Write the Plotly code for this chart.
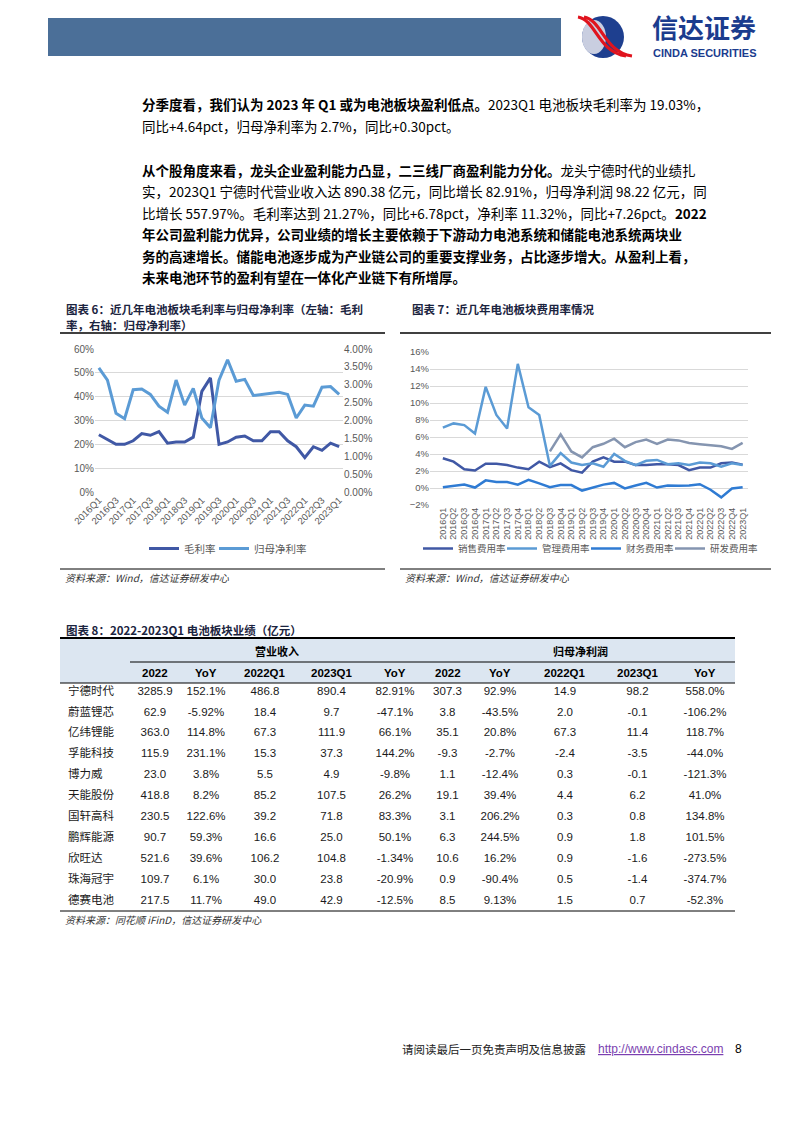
import plotly.graph_objects as go

W, H = 794, 1123

def X(px):
    return px / W

def Y(py):
    return 1 - py / H

# ---------------- data ----------------
quarters = [f"{y}Q{q}" for y in range(2016, 2024) for q in range(1, 5)][:29]

gross_margin = [24.0, 22.1, 20.0, 20.0, 21.5, 24.5, 23.8, 25.3, 20.5, 21.0, 21.0, 23.0, 42.2, 47.9,
                20.0, 21.0, 23.0, 23.5, 21.5, 21.5, 25.3, 25.3, 21.5, 19.0, 14.4, 19.0, 17.5, 20.5, 19.03]
net_margin = [3.47, 3.13, 2.20, 2.05, 2.86, 2.88, 2.73, 2.40, 2.23, 3.13, 2.43, 2.90, 2.07, 1.80,
              3.13, 3.70, 3.10, 3.15, 2.70, 2.73, 2.77, 2.79, 2.73, 2.07, 2.43, 2.40, 2.93, 2.95, 2.73]

selling_rate = [3.5, 3.1, 2.2, 2.05, 2.85, 2.85, 2.7, 2.4, 2.2, 3.1, 2.45, 2.9, 2.1, 1.8, 3.1, 3.6,
                3.1, 3.1, 2.7, 2.7, 2.8, 2.8, 2.7, 2.1, 2.4, 2.4, 2.9, 3.0, 2.75]
admin_rate = [7.1, 7.6, 7.4, 6.4, 11.9, 8.6, 7.0, 14.6, 9.5, 8.6, 2.6, 4.1, 3.0, 2.7, 2.9, 2.5,
              4.0, 3.2, 2.7, 3.2, 3.3, 2.8, 2.9, 2.7, 3.0, 2.9, 2.5, 2.9, 2.7]
finance_rate = [0.1, 0.25, 0.4, 0.05, 0.9, 0.7, 0.7, 0.4, 0.95, 0.55, 0.1, 0.35, 0.35, -0.3, 0.05, 0.4,
                0.6, -0.05, 0.3, 0.6, 0.05, 0.3, 0.25, 0.3, 0.45, -0.2, -1.1, -0.05, 0.1]
rd_rate = [None] * 10 + [4.3, 6.3, 4.3, 3.6, 4.8, 5.2, 5.8, 4.8, 5.4, 5.7, 5.2, 5.7, 5.6, 5.3,
                         5.15, 5.0, 4.9, 4.6, 5.3]

companies = ["宁德时代", "蔚蓝锂芯", "亿纬锂能", "孚能科技", "博力威", "天能股份", "国轩高科",
             "鹏辉能源", "欣旺达", "珠海冠宇", "德赛电池"]
rev_2022 = [3285.9, 62.9, 363.0, 115.9, 23.0, 418.8, 230.5, 90.7, 521.6, 109.7, 217.5]
rev_2022_yoy = ["152.1%", "-5.92%", "114.8%", "231.1%", "3.8%", "8.2%", "122.6%", "59.3%", "39.6%", "6.1%", "11.7%"]
rev_22q1 = [486.8, 18.4, 67.3, 15.3, 5.5, 85.2, 39.2, 16.6, 106.2, 30.0, 49.0]
rev_23q1 = [890.4, 9.7, 111.9, 37.3, 4.9, 107.5, 71.8, 25.0, 104.8, 23.8, 42.9]
rev_q1_yoy = ["82.91%", "-47.1%", "66.1%", "144.2%", "-9.8%", "26.2%", "83.3%", "50.1%", "-1.34%", "-20.9%", "-12.5%"]
np_2022 = [307.3, 3.8, 35.1, -9.3, 1.1, 19.1, 3.1, 6.3, 10.6, 0.9, 8.5]
np_2022_yoy = ["92.9%", "-43.5%", "20.8%", "-2.7%", "-12.4%", "39.4%", "206.2%", "244.5%", "16.2%", "-90.4%", "9.13%"]
np_22q1 = [14.9, 2.0, 67.3, -2.4, 0.3, 4.4, 0.3, 0.9, 0.9, 0.5, 1.5]
np_23q1 = [98.2, -0.1, 11.4, -3.5, -0.1, 6.2, 0.8, 1.8, -1.6, -1.4, 0.7]
np_q1_yoy = ["558.0%", "-106.2%", "118.7%", "-44.0%", "-121.3%", "41.0%", "134.8%", "101.5%", "-273.5%", "-374.7%", "-52.3%"]
table_headers = ["", "2022", "YoY", "2022Q1", "2023Q1", "YoY", "2022", "YoY", "2022Q1", "2023Q1", "YoY"]
group_headers = ["营业收入", "归母净利润"]

CJK = "Noto Sans CJK SC"
LAT = "Liberation Sans, Arial, Noto Sans CJK SC"
GREY = "#595959"

fig = go.Figure()

# ---------------- chart 6 ----------------
fig.add_trace(go.Scatter(x=quarters, y=gross_margin, name="毛利率", mode="lines",
                         line=dict(color="#4058A5", width=3), xaxis="x", yaxis="y", legend="legend"))
fig.add_trace(go.Scatter(x=quarters, y=net_margin, name="归母净利率", mode="lines",
                         line=dict(color="#5B9BD5", width=3), xaxis="x", yaxis="y2", legend="legend3"))

# ---------------- chart 7 ----------------
for name, vals, col, lg in [("销售费用率", selling_rate, "#4058A5", "legend2"),
                            ("管理费用率", admin_rate, "#5B9BD5", "legend4"),
                            ("财务费用率", finance_rate, "#2F7BD3", "legend5"),
                            ("研发费用率", rd_rate, "#8595B0", "legend6")]:
    fig.add_trace(go.Scatter(x=quarters, y=vals, name=name, mode="lines",
                             line=dict(color=col, width=2.5), xaxis="x2", yaxis="y3",
                             legend=lg, connectgaps=False))

# ---------------- table ----------------
TABLE_X0, TABLE_X1 = 60, 735
col_widths = [70, 50, 52, 66, 67, 60, 45, 60, 70, 75, 60]
num_cols = [rev_2022, rev_2022_yoy, rev_22q1, rev_23q1, rev_q1_yoy,
            np_2022, np_2022_yoy, np_22q1, np_23q1, np_q1_yoy]
cols = [companies] + [[v if isinstance(v, str) else f"{v:.1f}" for v in c] for c in num_cols]

fig.add_trace(go.Table(
    domain=dict(x=[X(TABLE_X0), X(TABLE_X1)], y=[Y(940), Y(662)]),
    columnwidth=col_widths,
    header=dict(values=[], height=0, fill_color="rgba(0,0,0,0)",
                line=dict(color="rgba(0,0,0,0)", width=0)),
    cells=dict(values=cols, height=20.9,
               fill_color="rgba(0,0,0,0)", line=dict(color="rgba(0,0,0,0)", width=0),
               font=dict(family=LAT, size=11.5, color="#1a1a1a"),
               align=["left"] + ["center"] * 10),
))

shapes = []

def hline(y, x0, x1, w=1, color="#000"):
    shapes.append(dict(type="line", xref="paper", yref="paper", x0=X(x0), x1=X(x1),
                       y0=Y(y), y1=Y(y), line=dict(color=color, width=w), layer="above"))

# header bar
shapes.append(dict(type="rect", xref="paper", yref="paper", x0=X(48), x1=X(561), y0=Y(56), y1=Y(18),
                   fillcolor="#4B6F98", line=dict(width=0), layer="below"))
# emblem
shapes.append(dict(type="circle", xref="paper", yref="paper", x0=X(582), x1=X(624), y0=Y(58), y1=Y(16),
                   fillcolor="#1E3F8F", line=dict(width=0), layer="below"))
shapes.append(dict(type="circle", xref="paper", yref="paper", x0=X(582), x1=X(606), y0=Y(54), y1=Y(20),
                   fillcolor="#C9CEE0", line=dict(width=0), layer="below"))

def ppath(pts):
    s = ""
    for cmd, coords in pts:
        s += cmd + " ".join(f"{X(a):.5f},{Y(b):.5f}" for a, b in coords) + " "
    return s.strip()

for off in (0, 6):
    shapes.append(dict(type="path", xref="paper", yref="paper",
                       path=ppath([("M", [(578 + off, 17)]),
                                   ("C", [(596 + off, 20), (598 + off, 52), (626 + off, 56)])]),
                       line=dict(color="#E0141E", width=3.2), layer="below"))

# title rules / source rules / table rules
hline(333, 60, 385, 1.5)
hline(333, 400, 771, 1.5)
hline(569, 60, 385, 1)
hline(569, 400, 771, 1)
shapes.append(dict(type="rect", xref="paper", yref="paper", x0=X(60), x1=X(735), y0=Y(683), y1=Y(639),
                   fillcolor="#DCE6F1", line=dict(width=0), layer="below"))
hline(638, 60, 735, 2)
hline(662, 130, 735, 1)
hline(683, 60, 735, 1)
hline(911, 60, 735, 1)

annotations = []

def txt(x, y, t, size=14, color="#000", family=CJK, anchor="left", yanchor="middle"):
    annotations.append(dict(x=X(x), y=Y(y), xref="paper", yref="paper", text=t, showarrow=False,
                            xanchor=anchor, yanchor=yanchor, align="left",
                            font=dict(size=size, color=color, family=family)))

# logo text
txt(650, 27, "<b>信达证券</b>", size=26, color="#1B3C8E")
txt(651, 53, "<b>CINDA SECURITIES</b>", size=11, color="#1B3C8E", family="Liberation Sans, Arial")

body = [
    (104, "<b>分季度看，我们认为 2023 年 Q1 或为电池板块盈利低点。</b>2023Q1 电池板块毛利率为 19.03%，"),
    (126, "同比+4.64pct，归母净利率为 2.7%，同比+0.30pct。"),
    (170, "<b>从个股角度来看，龙头企业盈利能力凸显，二三线厂商盈利能力分化。</b>龙头宁德时代的业绩扎"),
    (191, "实，2023Q1 宁德时代营业收入达 890.38 亿元，同比增长 82.91%，归母净利润 98.22 亿元，同"),
    (213, "比增长 557.97%。毛利率达到 21.27%，同比+6.78pct，净利率 11.32%，同比+7.26pct。<b>2022</b>"),
    (234, "<b>年公司盈利能力优异，公司业绩的增长主要依赖于下游动力电池系统和储能电池系统两块业</b>"),
    (256, "<b>务的高速增长。储能电池逐步成为产业链公司的重要支撑业务，占比逐步增大。从盈利上看，</b>"),
    (277, "<b>未来电池环节的盈利有望在一体化产业链下有所增厚。</b>"),
]
for y, t in body:
    txt(140, y, t, size=13.5)

TITLE_C = "#1B2440"
txt(64, 309, "<b>图表 6：近几年电池板块毛利率与归母净利率（左轴：毛利</b>", size=11.5, color=TITLE_C)
txt(64, 325, "<b>率，右轴：归母净利率）</b>", size=11.5, color=TITLE_C)
txt(410, 309, "<b>图表 7：近几年电池板块费用率情况</b>", size=11.5, color=TITLE_C)
txt(63, 577, "<i>资料来源：Wind，信达证券研发中心</i>", size=10, color="#333")
txt(403, 577, "<i>资料来源：Wind，信达证券研发中心</i>", size=10, color="#333")
txt(64, 630, "<b>图表 8：2022-2023Q1 电池板块业绩（亿元）</b>", size=11.5, color=TITLE_C)
txt(277, 651, f"<b>{group_headers[0]}</b>", size=11, anchor="center")
txt(580, 651, f"<b>{group_headers[1]}</b>", size=11, anchor="center")
# column sub-headers placed at the table's column centres
total_w = sum(col_widths)
edge = TABLE_X0
for hdr, cw in zip(table_headers, col_widths):
    w = cw * (TABLE_X1 - TABLE_X0) / total_w
    if hdr:
        txt(edge + w / 2, 673, f"<b>{hdr}</b>", size=11.5, anchor="center", family=LAT)
    edge += w
txt(63, 919, "<i>资料来源：同花顺 iFinD，信达证券研发中心</i>", size=10, color="#333")

# footer
txt(400, 1049, "请阅读最后一页免责声明及信息披露", size=11.5, color="#222")
txt(596, 1049, "<u>http://www.cindasc.com</u>", size=12, color="#7B3FB0", family="Liberation Sans, Arial")
txt(733, 1049, "8", size=12, color="#000", family="Liberation Sans, Arial")

def leg(xpx, size):
    return dict(orientation="h", x=X(xpx), y=Y(534), xanchor="left", yanchor="top",
                font=dict(size=size, color=GREY, family=CJK), itemwidth=30,
                bgcolor="rgba(0,0,0,0)")

fig.update_layout(
    width=W, height=H, margin=dict(l=0, r=0, t=0, b=0, pad=0, autoexpand=False),
    paper_bgcolor="white", plot_bgcolor="rgba(0,0,0,0)",
    shapes=shapes, annotations=annotations,
    font=dict(family=CJK),
    xaxis=dict(domain=[X(95), X(343)], anchor="y", type="category", range=[-0.45, 28.45],
               tickmode="array", tickvals=quarters[::2], ticktext=quarters[::2], tickangle=-45,
               tickfont=dict(size=9.5, color=GREY, family=LAT), showgrid=False, showline=False,
               ticks="", zeroline=False),
    yaxis=dict(domain=[Y(492), Y(349)], anchor="x", range=[0, 60], dtick=10, ticksuffix="%",
               tickfont=dict(size=10, color=GREY, family=LAT), gridcolor="#D9D9D9",
               zeroline=False, showline=False),
    yaxis2=dict(overlaying="y", side="right", anchor="x", range=[0, 4], dtick=0.5, tickformat=".2f",
                ticksuffix="%", tickfont=dict(size=10, color=GREY, family=LAT), showgrid=False,
                zeroline=False, showline=False),
    xaxis2=dict(domain=[X(430), X(748)], anchor="y3", type="category", range=[-1.2, 28.5],
                tickmode="array", tickvals=quarters, ticktext=quarters,
                tickangle=-90, tickfont=dict(size=9, color=GREY, family=LAT), showgrid=False,
                showline=False, ticks="", zeroline=False),
    yaxis3=dict(domain=[Y(505), Y(352)], anchor="x2", range=[-2, 16], dtick=2, ticksuffix="%",
                tickfont=dict(size=9.5, color=GREY, family=LAT), gridcolor="#D9D9D9",
                zeroline=False, showline=False),
    legend=leg(144, 10.5),
    legend3=leg(214, 10.5),
    legend2=leg(418, 9.5),
    legend4=leg(502, 9.5),
    legend5=leg(586, 9.5),
    legend6=leg(670, 9.5),
    showlegend=True,
)

fig.write_html("out.html", config={"displayModeBar": False},
               post_script="document.body.style.margin='0px';")
